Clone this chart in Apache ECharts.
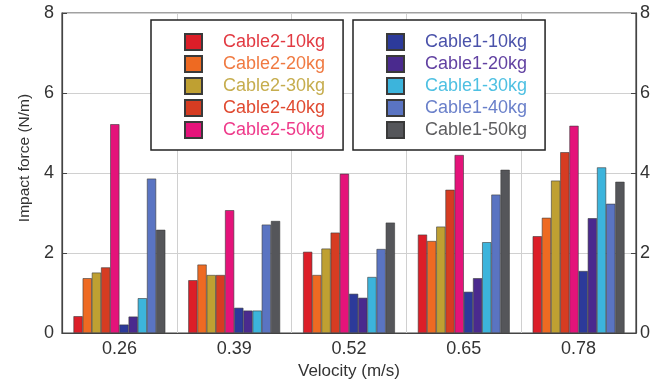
<!DOCTYPE html>
<html>
<head>
<meta charset="utf-8">
<script src="https://cdn.jsdelivr.net/npm/echarts@6/dist/echarts.min.js"></script>
<style>html,body{margin:0;padding:0;background:#fff;}#c{width:662px;height:387px;}</style>
</head>
<body>
<div id="c"></div>
<script>
var categories = ['0.26', '0.39', '0.52', '0.65', '0.78'];
var seriesNames = ['Cable2-10kg','Cable2-20kg','Cable2-30kg','Cable2-40kg','Cable2-50kg',
                   'Cable1-10kg','Cable1-20kg','Cable1-30kg','Cable1-40kg','Cable1-50kg'];
var c2_10 = [0.42, 1.32, 2.03, 2.46, 2.42];
var c2_20 = [1.37, 1.71, 1.45, 2.30, 2.88];
var c2_30 = [1.51, 1.45, 2.11, 2.66, 3.81];
var c2_40 = [1.64, 1.45, 2.51, 3.58, 4.52];
var c2_50 = [5.22, 3.07, 3.98, 4.45, 5.18];
var c1_10 = [0.21, 0.63, 0.98, 1.03, 1.55];
var c1_20 = [0.41, 0.56, 0.88, 1.37, 2.87];
var c1_30 = [0.87, 0.56, 1.40, 2.27, 4.14];
var c1_40 = [3.86, 2.71, 2.10, 3.46, 3.23];
var c1_50 = [2.58, 2.80, 2.76, 4.08, 3.78];
var yTicks = [0, 2, 4, 6, 8];

var allData = [c2_10, c2_20, c2_30, c2_40, c2_50, c1_10, c1_20, c1_30, c1_40, c1_50];
var barColors = ['#dc1e28','#ee6a22','#bfa032','#d63c22','#e4137a',
                 '#2c3a9a','#4a2a8e','#3cb4dc','#5a74c2','#55565a'];
var textColors = ['#e23a42','#f07a42','#c6ad4e','#e04a30','#ee3a8a',
                  '#4a52aa','#6242a2','#4ec0e2','#6a80ca','#5e5e60'];
var FONT = 'Liberation Sans, Arial, Helvetica, sans-serif';

var series = allData.map(function (d, i) {
  return {
    name: seriesNames[i],
    type: 'bar',
    data: d,
    barGap: '0%',
    barCategoryGap: '20%',
    itemStyle: { color: barColors[i], borderColor: '#3a3a3a', borderWidth: 0.6 }
  };
});

function legendData(from, to) {
  var arr = [];
  for (var i = from; i < to; i++) {
    arr.push({ name: seriesNames[i], icon: 'rect', textStyle: { color: textColors[i] } });
  }
  return arr;
}
var legendCommon = {
  orient: 'vertical',
  top: 20,
  itemWidth: 17,
  itemHeight: 16,
  itemGap: 4,
  icon: 'rect',
  borderColor: '#222',
  borderWidth: 1.5,
  padding: [13, 18, 11, 33],
  backgroundColor: '#fff',
  selectedMode: false,
  textStyle: { fontFamily: FONT, fontSize: 18, lineHeight: 18, padding: [0, 0, 0, 16] }
};
var legends = [
  Object.assign({}, legendCommon, { left: 151, data: legendData(0, 5) }),
  Object.assign({}, legendCommon, { left: 353, data: legendData(5, 10) })
];

var axisLabelStyle = { color: '#333', fontFamily: FONT, fontSize: 18 };

var option = {
  animation: false,
  backgroundColor: '#fff',
  grid: { left: 62, right: 26, top: 13, bottom: 54, show: true, borderColor: '#444', borderWidth: 1.2, backgroundColor: 'transparent' },
  legend: legends,
  xAxis: {
    type: 'category',
    data: categories,
    boundaryGap: true,
    name: 'Velocity (m/s)',
    nameLocation: 'middle',
    nameGap: 28,
    nameTextStyle: { color: '#333', fontFamily: FONT, fontSize: 17 },
    axisLine: { lineStyle: { color: '#444', width: 1.2 } },
    axisTick: { inside: true, length: 4, lineStyle: { color: '#444' } },
    axisLabel: Object.assign({ margin: 7 }, axisLabelStyle),
    splitLine: { show: true, lineStyle: { color: '#d0d0d0', width: 1 } }
  },
  yAxis: [
    {
      type: 'value', min: 0, max: 8, interval: 2,
      name: 'Impact force (N/m)',
      nameLocation: 'middle',
      nameGap: 29,
      nameTextStyle: { color: '#333', fontFamily: FONT, fontSize: 15.5, padding: [0, 0, 0, 30] },
      axisLine: { show: true, lineStyle: { color: '#444', width: 1.2 } },
      axisTick: { show: true, inside: true, length: 5, lineStyle: { color: '#444' } },
      axisLabel: Object.assign({ margin: 8, formatter: function (v) { return yTicks.indexOf(v) >= 0 ? String(v) : ''; } }, axisLabelStyle),
      splitLine: { show: true, lineStyle: { color: '#d0d0d0', width: 1 } }
    },
    {
      type: 'value', min: 0, max: 8, interval: 2, position: 'right',
      axisLine: { show: true, lineStyle: { color: '#444', width: 1.2 } },
      axisTick: { show: true, inside: true, length: 5, lineStyle: { color: '#444' } },
      axisLabel: Object.assign({ margin: 4 }, axisLabelStyle),
      splitLine: { show: false }
    }
  ],
  series: series
};

var chart = echarts.init(document.getElementById('c'), null, { renderer: 'canvas' });
chart.setOption(option);
</script>
</body>
</html>
